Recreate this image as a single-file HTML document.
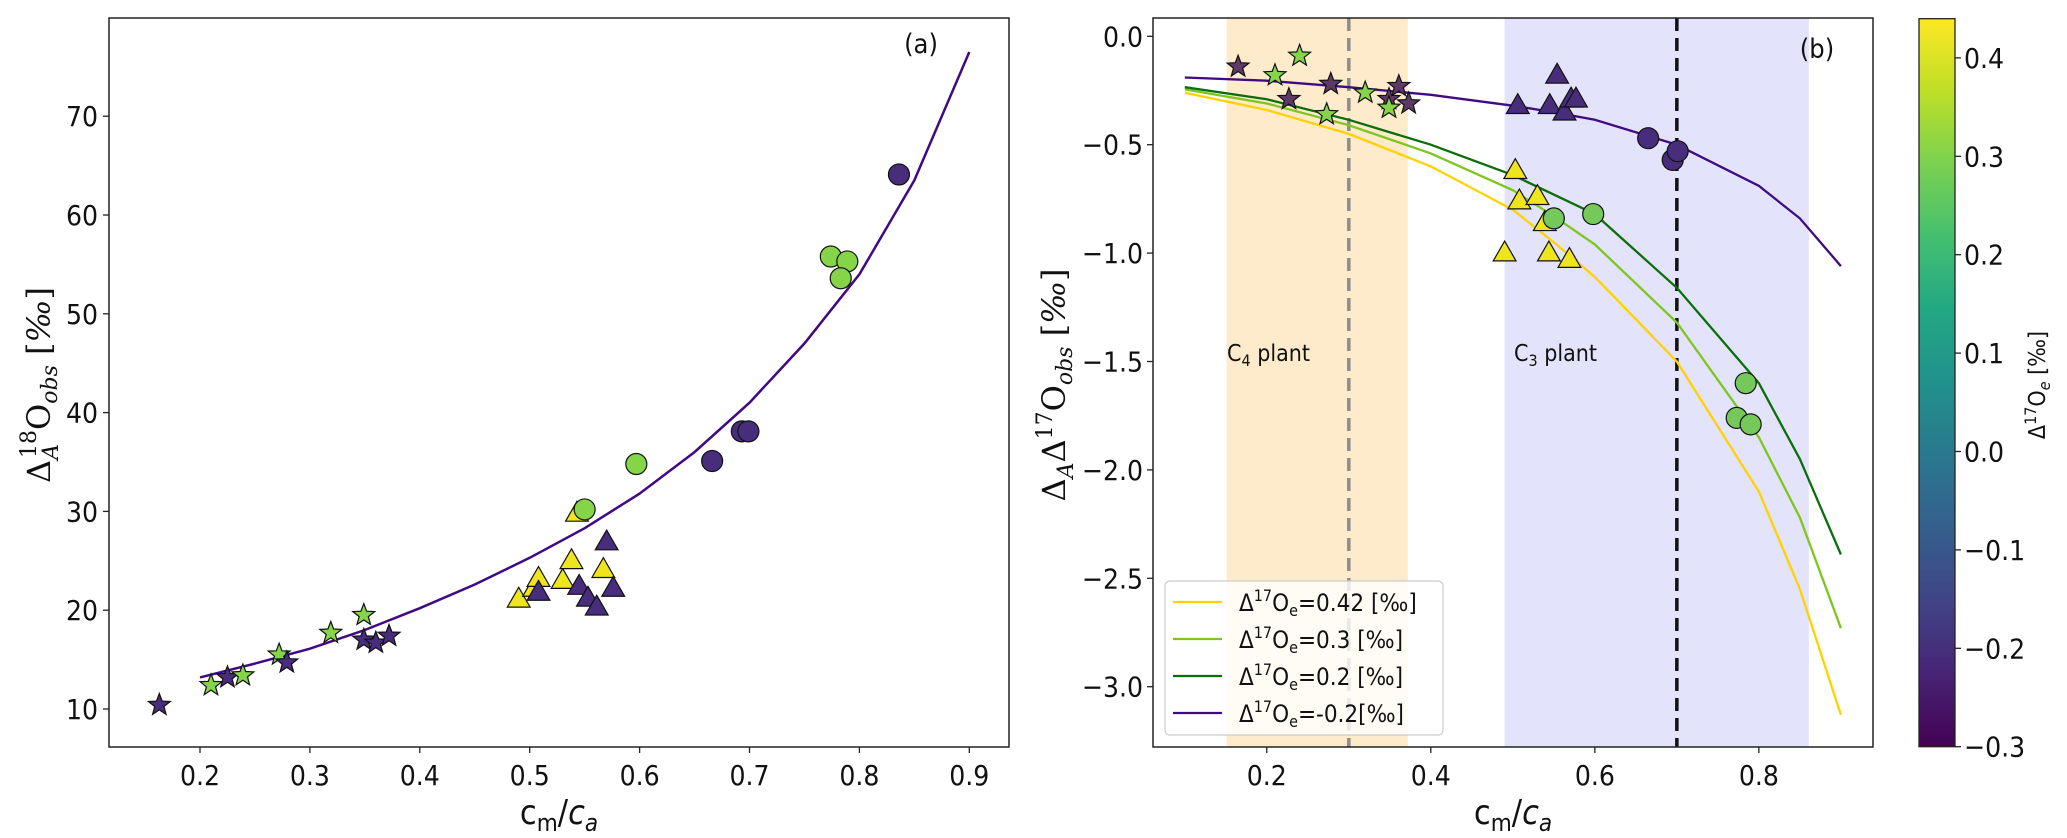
<!DOCTYPE html>
<html><head><meta charset="utf-8">
<style>
html,body{margin:0;padding:0;background:#fff;}
svg{display:block;font-family:"DejaVu Sans Condensed","DejaVu Sans","Liberation Sans",sans-serif;}
</style></head>
<body>
<svg id="fig" width="2067" height="838" viewBox="0 0 2067 838" xmlns="http://www.w3.org/2000/svg">
<defs>
<linearGradient id="viridis" x1="0" y1="1" x2="0" y2="0">
<stop offset="0" stop-color="#440154"/><stop offset="0.1" stop-color="#482475"/>
<stop offset="0.2" stop-color="#414487"/><stop offset="0.3" stop-color="#355f8d"/>
<stop offset="0.4" stop-color="#2a788e"/><stop offset="0.5" stop-color="#21918c"/>
<stop offset="0.6" stop-color="#22a884"/><stop offset="0.7" stop-color="#44bf70"/>
<stop offset="0.8" stop-color="#7ad151"/><stop offset="0.9" stop-color="#bddf26"/>
<stop offset="1" stop-color="#fde725"/>
</linearGradient>
<clipPath id="clipA"><rect x="109" y="18" width="900" height="729"/></clipPath>
<clipPath id="clipB"><rect x="1153" y="18" width="720" height="729"/></clipPath>
</defs>
<g id="panelA"></g>
<g id="panelB"></g>
<g id="cbar"></g>
</svg>
<script>
// ---------- Panel (a) data ----------
const curveAx = [0.2,0.25,0.3,0.35,0.4,0.45,0.5,0.55,0.6,0.65,0.7,0.75,0.8,0.85,0.9];
const curveAy = [13.2,14.6,16.1,18.0,20.2,22.6,25.3,28.3,31.8,36.0,41.0,47.0,54.0,63.5,76.5];
const aStarX = [0.163,0.21,0.225,0.239,0.272,0.279,0.319,0.349,0.349,0.36,0.372];
const aStarY = [10.4,12.4,13.2,13.4,15.5,14.7,17.7,19.5,17.0,16.7,17.4];
const aStarC = ['p','g','p','g','g','p','g','g','p','p','p'];
const aTriX = [0.49,0.504,0.508,0.53,0.538,0.543,0.567,0.508,0.545,0.553,0.561,0.570,0.576];
const aTriY = [21.1,22.2,23.2,23.0,25.0,29.8,24.1,21.8,22.4,21.2,20.3,26.9,22.2];
const aTriC = ['y','y','y','y','y','y','y','p','p','p','p','p','p'];
const aCircX = [0.55,0.597,0.774,0.789,0.783,0.666,0.693,0.699,0.836];
const aCircY = [30.2,34.8,55.8,55.3,53.6,35.1,38.1,38.1,64.1];
const aCircC = ['g','g','g','g','g','p','p','p','p'];
const aXTicks = [0.2,0.3,0.4,0.5,0.6,0.7,0.8,0.9];
const aYTicks = [10,20,30,40,50,60,70];

// ---------- Panel (b) data ----------
const curveBx = [0.1,0.2,0.3,0.4,0.5,0.55,0.6,0.7,0.8,0.85,0.9];
const curveYellow = [-0.26,-0.34,-0.45,-0.6,-0.8,-0.95,-1.11,-1.5,-2.1,-2.55,-3.13];
const curveLgreen = [-0.245,-0.31,-0.41,-0.54,-0.71,-0.83,-0.96,-1.32,-1.85,-2.22,-2.73];
const curveDgreen = [-0.235,-0.29,-0.385,-0.5,-0.64,-0.73,-0.82,-1.16,-1.6,-1.95,-2.39];
const curvePurple = [-0.19,-0.205,-0.235,-0.27,-0.32,-0.35,-0.385,-0.5,-0.69,-0.84,-1.06];
const bStarX = [0.165,0.227,0.278,0.349,0.361,0.373,0.21,0.24,0.273,0.32,0.349];
const bStarY = [-0.14,-0.29,-0.22,-0.29,-0.23,-0.31,-0.18,-0.09,-0.36,-0.26,-0.33];
const bStarC = ['m','m','m','m','m','m','g','g','g','g','g'];
const bTriX = [0.506,0.554,0.545,0.563,0.571,0.577,0.503,0.508,0.53,0.539,0.49,0.544,0.569];
const bTriY = [-0.32,-0.18,-0.32,-0.35,-0.29,-0.29,-0.62,-0.76,-0.74,-0.86,-1.0,-1.0,-1.03];
const bTriC = ['p','p','p','p','p','p','y','y','y','y','y','y','y'];
const bCircX = [0.55,0.598,0.784,0.773,0.79,0.665,0.695,0.701];
const bCircY = [-0.84,-0.82,-1.60,-1.76,-1.79,-0.47,-0.57,-0.53];
const bCircC = ['g2','g2','g2','g2','g2','p','p','p'];
const bXTicks = [0.2,0.4,0.6,0.8];
const bYTicks = [0.0,-0.5,-1.0,-1.5,-2.0,-2.5,-3.0];
const cbTicks = [0.4,0.3,0.2,0.1,0.0,-0.1,-0.2,-0.3];

const COL = {p:'#472d7b', g:'#86d549', y:'#eee51c', m:'#5d3a66', g2:'#74c95a'};
const NS = 'http://www.w3.org/2000/svg';
function mk(parent, tag, attrs){const e=document.createElementNS(NS,tag);for(const k in attrs)e.setAttribute(k,attrs[k]);parent.appendChild(e);return e;}

const axA = v => 200 + (v-0.2)*1099;
const ayA = v => 709 - (v-10)*9.88;
const axB = v => 1266.8 + (v-0.2)*820.1;
const ayB = v => 36.3 - v*216.8;
const cbY = v => 746.7 - (v+0.3)*984;

function starPath(cx,cy,R){let d='';const r=R*0.42;for(let i=0;i<10;i++){const a=-Math.PI/2+i*Math.PI/5;const rr=i%2?r:R;d+=(i?'L':'M')+(cx+rr*Math.cos(a)).toFixed(1)+' '+(cy+rr*Math.sin(a)).toFixed(1);}return d+'Z';}
function triPath(cx,cy,s){return `M${cx} ${cy-s}L${cx+s*0.95} ${cy+s*0.65}L${cx-s*0.95} ${cy+s*0.65}Z`;}

function drawMarkers(g, xs, ys, cs, kind, fx, fy){
  for(let i=0;i<xs.length;i++){
    const cx=fx(xs[i]), cy=fy(ys[i]); let el;
    if(kind==='star') el=mk(g,'path',{d:starPath(cx,cy,11.5)});
    else if(kind==='tri') el=mk(g,'path',{d:triPath(cx,cy,12)});
    else el=mk(g,'circle',{cx:cx,cy:cy,r:10.5});
    el.setAttribute('fill',COL[cs[i]]);el.setAttribute('stroke','#111');el.setAttribute('stroke-width','1.2');
    
    
  }
}
function linePath(xs,ys,fx,fy){return xs.map((x,i)=>(i?'L':'M')+fx(x).toFixed(1)+' '+fy(ys[i]).toFixed(1)).join('');}

const A = document.getElementById('panelA');
mk(A,'rect',{x:109,y:18,width:900,height:729,fill:'#fff'});
const gA = mk(A,'g',{'clip-path':'url(#clipA)'});
const cA = mk(gA,'path',{d:linePath(curveAx,curveAy,axA,ayA),fill:'none',stroke:'#3f0a82','stroke-width':2.5});


drawMarkers(gA,aStarX,aStarY,aStarC,'star',axA,ayA);
drawMarkers(gA,aTriX,aTriY,aTriC,'tri',axA,ayA);
drawMarkers(gA,aCircX,aCircY,aCircC,'circ',axA,ayA);
mk(A,'rect',{x:109,y:18,width:900,height:729,fill:'none',stroke:'#222','stroke-width':1.5});
aXTicks.forEach(t=>{const x=axA(t);mk(A,'line',{x1:x,y1:747,x2:x,y2:753,stroke:'#222','stroke-width':1.3});
  const tx=mk(A,'text',{x:x,y:785,'font-size':28,'text-anchor':'middle',fill:'#111'});tx.textContent=t.toFixed(1);
  
  });
aYTicks.forEach(t=>{const y=ayA(t);mk(A,'line',{x1:103,y1:y,x2:109,y2:y,stroke:'#222','stroke-width':1.3});
  const tx=mk(A,'text',{x:98,y:y+10,'font-size':28,'text-anchor':'end',fill:'#111'});tx.textContent=t;
  
  });
</script>
<script>
const A2=document.getElementById('panelA');
A2.insertAdjacentHTML('beforeend',
`<text x="921" y="53" font-size="27" text-anchor="middle" fill="#111">(a)</text>
<text x="559" y="824" font-size="34" text-anchor="middle" fill="#111">c<tspan font-size="24" dy="7">m</tspan><tspan dy="-7">/</tspan><tspan font-style="italic">c</tspan><tspan font-size="24" dy="7" font-style="italic">a</tspan></text>
<text transform="translate(50,385) rotate(-90)" font-size="32" text-anchor="middle" fill="#111" font-family="DejaVu Serif, Liberation Serif, serif">Δ<tspan font-size="22" dy="8" font-style="italic">A</tspan><tspan font-size="22" dy="-22" dx="-14">18</tspan><tspan dy="14">O</tspan><tspan font-size="22" dy="7" font-style="italic">obs</tspan><tspan dy="-7"> [</tspan><tspan font-style="italic">‰</tspan><tspan>]</tspan></text>`);
</script>
<script>
const B = document.getElementById('panelB');
mk(B,'rect',{x:1153,y:18,width:720,height:729,fill:'#fff'});
const gB = mk(B,'g',{'clip-path':'url(#clipB)'});
const bandC4 = mk(gB,'rect',{x:axB(0.151),y:18,width:axB(0.372)-axB(0.151),height:729,fill:'#feebcc'});


const bandC3 = mk(gB,'rect',{x:axB(0.49),y:18,width:axB(0.861)-axB(0.49),height:729,fill:'#e3e3fb'});


const vg = mk(gB,'line',{x1:axB(0.3),y1:18,x2:axB(0.3),y2:747,stroke:'#8c8c8c','stroke-width':3.5,'stroke-dasharray':'13 7'});


const vb = mk(gB,'line',{x1:axB(0.7),y1:18,x2:axB(0.7),y2:747,stroke:'#111','stroke-width':3.5,'stroke-dasharray':'13 7'});


[[curveYellow,'#ffd200'],[curveLgreen,'#7ec61e'],[curveDgreen,'#0a6e0a'],[curvePurple,'#3f0a82']].forEach(([ys,c])=>{
  const p=mk(gB,'path',{d:linePath(curveBx,ys,axB,ayB),fill:'none',stroke:c,'stroke-width':2.3});
  
  
});
drawMarkers(gB,bStarX,bStarY,bStarC,'star',axB,ayB);
drawMarkers(gB,bTriX,bTriY,bTriC,'tri',axB,ayB);
drawMarkers(gB,bCircX,bCircY,bCircC,'circ',axB,ayB);
mk(B,'rect',{x:1153,y:18,width:720,height:729,fill:'none',stroke:'#222','stroke-width':1.5});
bXTicks.forEach(t=>{const x=axB(t);mk(B,'line',{x1:x,y1:747,x2:x,y2:753,stroke:'#222','stroke-width':1.3});
  const tx=mk(B,'text',{x:x,y:785,'font-size':28,'text-anchor':'middle',fill:'#111'});tx.textContent=t.toFixed(1);
  
  });
bYTicks.forEach(t=>{const y=ayB(t);mk(B,'line',{x1:1147,y1:y,x2:1153,y2:y,stroke:'#222','stroke-width':1.3});
  const tx=mk(B,'text',{x:1143,y:y+10,'font-size':28,'text-anchor':'end',fill:'#111'});tx.textContent=(t===0?'0.0':'−'+Math.abs(t).toFixed(1));
  
  });
const CB=document.getElementById('cbar');
mk(CB,'rect',{x:1919,y:18.7,width:36,height:728,fill:'url(#viridis)',stroke:'#222','stroke-width':1.3});
cbTicks.forEach(t=>{const y=cbY(t);mk(CB,'line',{x1:1955,y1:y,x2:1961,y2:y,stroke:'#222','stroke-width':1.3});
  const tx=mk(CB,'text',{x:1964,y:y+10,'font-size':28,fill:'#111'});tx.textContent=(t<0?'−':'')+Math.abs(t).toFixed(1);
  
  });
</script>
<script>
const B2=document.getElementById('panelB');
B2.insertAdjacentHTML('beforeend',
`<text x="1817" y="58" font-size="27" text-anchor="middle" fill="#111">(b)</text>
<text x="1227" y="361" font-size="23" fill="#111">C<tspan font-size="16" dy="5">4</tspan><tspan dy="-5"> plant</tspan></text>
<text x="1514" y="361" font-size="23" fill="#111">C<tspan font-size="16" dy="5">3</tspan><tspan dy="-5"> plant</tspan></text>
<g>
<rect x="1165" y="581" width="278" height="154" rx="5" fill="#fff" fill-opacity="0.8" stroke="#ccc" stroke-width="1.2"/>
<line x1="1173" y1="602" x2="1222" y2="602" stroke="#ffd200" stroke-width="2.3"/>
<line x1="1173" y1="639" x2="1222" y2="639" stroke="#7ec61e" stroke-width="2.3"/>
<line x1="1173" y1="676" x2="1222" y2="676" stroke="#0a6e0a" stroke-width="2.3"/>
<line x1="1173" y1="713" x2="1222" y2="713" stroke="#3f0a82" stroke-width="2.3"/>
<text x="1239" y="611" font-size="24" fill="#111">Δ<tspan font-size="16" dy="-10">17</tspan><tspan dy="10">O</tspan><tspan font-size="16" dy="5">e</tspan><tspan dy="-5">=0.42 [‰]</tspan></text>
<text x="1239" y="648" font-size="24" fill="#111">Δ<tspan font-size="16" dy="-10">17</tspan><tspan dy="10">O</tspan><tspan font-size="16" dy="5">e</tspan><tspan dy="-5">=0.3 [‰]</tspan></text>
<text x="1239" y="685" font-size="24" fill="#111">Δ<tspan font-size="16" dy="-10">17</tspan><tspan dy="10">O</tspan><tspan font-size="16" dy="5">e</tspan><tspan dy="-5">=0.2 [‰]</tspan></text>
<text x="1239" y="722" font-size="24" fill="#111">Δ<tspan font-size="16" dy="-10">17</tspan><tspan dy="10">O</tspan><tspan font-size="16" dy="5">e</tspan><tspan dy="-5">=-0.2[‰]</tspan></text>
</g>
<text x="1513" y="824" font-size="34" text-anchor="middle" fill="#111">c<tspan font-size="24" dy="7">m</tspan><tspan dy="-7">/</tspan><tspan font-style="italic">c</tspan><tspan font-size="24" dy="7" font-style="italic">a</tspan></text>
<text transform="translate(1065,385) rotate(-90)" font-size="32" text-anchor="middle" fill="#111" font-family="DejaVu Serif, Liberation Serif, serif">Δ<tspan font-size="22" dy="8" font-style="italic">A</tspan><tspan dy="-8">Δ</tspan><tspan font-size="22" dy="-13">17</tspan><tspan dy="13">O</tspan><tspan font-size="22" dy="7" font-style="italic">obs</tspan><tspan dy="-7"> [</tspan><tspan font-style="italic">‰</tspan><tspan>]</tspan></text>`);
document.getElementById('cbar').insertAdjacentHTML('beforeend',
`<text transform="translate(2045,385) rotate(-90)" font-size="23" text-anchor="middle" fill="#111">Δ<tspan font-size="16" dy="-9">17</tspan><tspan dy="9">O</tspan><tspan font-size="16" dy="5" font-style="italic">e</tspan><tspan dy="-5"> [‰]</tspan></text>`);
</script>
</body></html>
